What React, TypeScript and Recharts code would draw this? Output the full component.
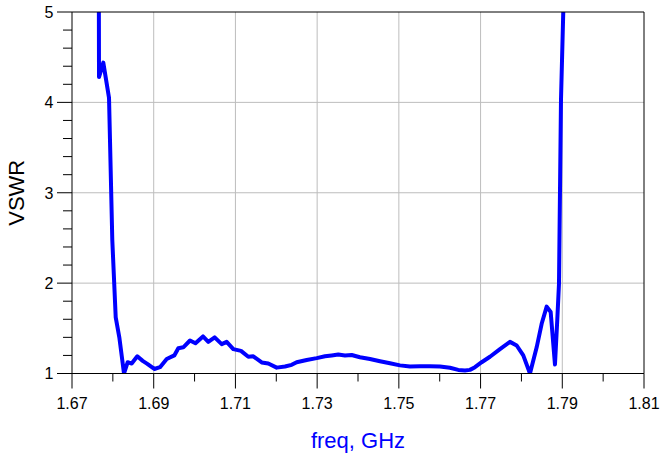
import React from 'react';
import { LineChart, Line, XAxis, YAxis, CartesianGrid, ReferenceLine } from 'recharts';

const freqGHz = [
  1.67655, 1.67661, 1.67766, 1.67906, 1.67986, 1.6807, 1.68158, 1.68273, 1.68363, 1.68461,
  1.68598, 1.6873, 1.68843, 1.69014, 1.69154, 1.69318, 1.69504, 1.69602, 1.69724, 1.69888,
  1.70022, 1.70206, 1.70336, 1.70492, 1.70664, 1.70786, 1.70948, 1.71136, 1.71315, 1.71437,
  1.71643, 1.71804, 1.7201, 1.72213, 1.72377, 1.72499, 1.72744, 1.72989, 1.73192, 1.73356,
  1.73517, 1.73681, 1.73845, 1.74048, 1.74293, 1.74538, 1.74783, 1.75027, 1.75272, 1.75517,
  1.75762, 1.76006, 1.76251, 1.76454, 1.76618, 1.7674, 1.76863, 1.77027, 1.7723, 1.77475,
  1.7772, 1.77884, 1.78045, 1.78209, 1.78373, 1.78495, 1.78618, 1.78716, 1.78821, 1.78877,
  1.78919, 1.78968, 1.79024, 1.7904,
];
const vswr = [
  5.6, 4.28, 4.44, 4.05, 2.48, 1.62, 1.4, 1.0, 1.125, 1.11,
  1.19, 1.14, 1.107, 1.05, 1.07, 1.16, 1.2, 1.28, 1.29, 1.365,
  1.335, 1.41, 1.35, 1.4, 1.325, 1.35, 1.27, 1.25, 1.185, 1.19,
  1.122, 1.11, 1.065, 1.077, 1.096, 1.125, 1.15, 1.17, 1.19, 1.2,
  1.21, 1.2, 1.205, 1.18, 1.16, 1.136, 1.114, 1.09, 1.077, 1.08,
  1.08, 1.077, 1.063, 1.04, 1.033, 1.04, 1.07, 1.125, 1.185, 1.27,
  1.35, 1.31, 1.2, 1.0, 1.29, 1.55, 1.74, 1.68, 1.1, 1.59,
  1.99, 4.02, 5.0, 5.5,
];

const xTicks = [1.67, 1.68, 1.69, 1.7, 1.71, 1.72, 1.73, 1.74, 1.75, 1.76, 1.77, 1.78, 1.79, 1.8, 1.81];
const xMajorTicks = [1.67, 1.69, 1.71, 1.73, 1.75, 1.77, 1.79, 1.81];
const xGridValues = [1.69, 1.71, 1.73, 1.75, 1.77, 1.79];
const yTicks = [1, 1.2, 1.4, 1.6, 1.8, 2, 2.2, 2.4, 2.6, 2.8, 3, 3.2, 3.4, 3.6, 3.8, 4, 4.2, 4.4, 4.6, 4.8, 5];
const yMajorTicks = [1, 2, 3, 4, 5];
const yGridValues = [2, 3, 4];

const data = freqGHz.map((f, i) => ({ f, v: vswr[i] }));

const FONT = '"Liberation Sans", Arial, Helvetica, sans-serif';

const isIn = (arr: number[], v: number) => arr.some((m) => Math.abs(m - v) < 1e-6);

const XTick = (props: any) => {
  const { x, y, payload } = props;
  const major = isIn(xMajorTicks, payload.value);
  return (
    <g>
      <line x1={x} y1={y} x2={x} y2={y + (major ? 15 : 8)} stroke="#000" strokeWidth={1} />
      {major && (
        <text x={x} y={y + 35} textAnchor="middle" fontSize={16} fontFamily={FONT} fill="#000">
          {Number(payload.value).toFixed(2)}
        </text>
      )}
    </g>
  );
};

const YTick = (props: any) => {
  const { x, y, payload } = props;
  const major = isIn(yMajorTicks, payload.value);
  return (
    <g>
      <line x1={x - (major ? 15 : 9)} y1={y} x2={x} y2={y} stroke="#000" strokeWidth={1} />
      {major && (
        <text x={x - 18.5} y={y + 5.8} textAnchor="end" fontSize={16} fontFamily={FONT} fill="#000">
          {String(payload.value)}
        </text>
      )}
    </g>
  );
};

const XTitle = (props: any) => {
  const vb = props.viewBox || { x: 72, y: 373.5, width: 572, height: 81.5 };
  return (
    <text x={vb.x + vb.width / 2} y={vb.y + 74.5} textAnchor="middle" fontSize={22} fontFamily={FONT} fill="#0000FF">
      freq, GHz
    </text>
  );
};

const YTitle = (props: any) => {
  const vb = props.viewBox || { x: 0, y: 12, width: 72, height: 361.5 };
  const cx = vb.x + 23.5;
  const cy = vb.y + vb.height / 2;
  return (
    <text x={cx} y={cy} transform={`rotate(-90, ${cx}, ${cy})`} textAnchor="middle" fontSize={22} fontFamily={FONT} fill="#000">
      VSWR
    </text>
  );
};

export default function App() {
  return (
    <div style={{ position: 'absolute', left: 0, top: 0, width: 660, height: 455, background: '#fff' }}>
      <LineChart width={660} height={455} data={data} margin={{ top: 12, right: 16, bottom: 0, left: 0 }}>
        <CartesianGrid
          stroke="#bdbdbd"
          strokeWidth={1}
          verticalValues={xGridValues}
          horizontalValues={yGridValues}
          fill="none"
        />
        <XAxis
          dataKey="f"
          type="number"
          domain={[1.67, 1.81]}
          ticks={xTicks}
          interval={0}
          allowDataOverflow
          tickSize={0}
          tickMargin={0}
          tick={<XTick />}
          axisLine={{ stroke: '#000', strokeWidth: 1 }}
          height={81.5}
          label={<XTitle />}
        />
        <YAxis
          type="number"
          domain={[1, 5]}
          ticks={yTicks}
          interval={0}
          allowDataOverflow
          tickSize={0}
          tickMargin={0}
          tick={<YTick />}
          axisLine={{ stroke: '#000', strokeWidth: 1 }}
          width={72}
          label={<YTitle />}
        />
        <Line
          dataKey="v"
          type="linear"
          stroke="#0000FF"
          strokeWidth={4}
          dot={false}
          activeDot={false}
          isAnimationActive={false}
          strokeLinejoin="round"
        />
        <ReferenceLine y={5} stroke="#000" strokeWidth={1} />
        <ReferenceLine x={1.81} stroke="#000" strokeWidth={1} />
      </LineChart>
    </div>
  );
}
